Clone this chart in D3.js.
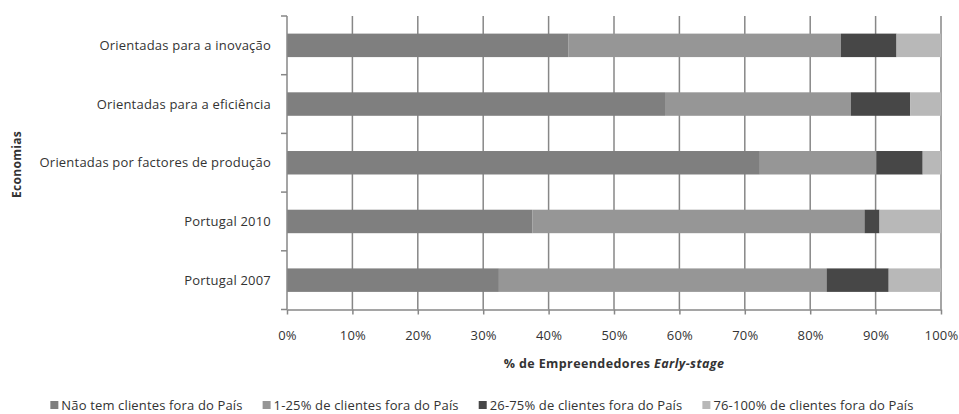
<!DOCTYPE html>
<html>
<head>
<meta charset="utf-8">
<script src="https://cdn.jsdelivr.net/npm/d3@7"></script>
<style>
  html, body { margin: 0; padding: 0; background: #fff; }
  svg { display: block; }
  text { font-family: "Open Sans", "Noto Sans", sans-serif; fill: #333; }
</style>
</head>
<body>
<svg id="chart" width="959" height="414"></svg>
<script>
// Economy groups, top to bottom
const categories = [
  "Orientadas para a inovação",
  "Orientadas para a eficiência",
  "Orientadas por factores de produção",
  "Portugal 2010",
  "Portugal 2007"
];

// Share of early-stage entrepreneurs by fraction of clients abroad (%)
const seriesNames = [
  "Não tem clientes fora do País",
  "1-25% de clientes fora do País",
  "26-75% de clientes fora do País",
  "76-100% de clientes fora do País"
];
const semClientes   = [43.0, 57.8, 72.3, 37.5, 32.4];
const ate25         = [41.7, 28.4, 17.8, 50.8, 50.1];
const de26a75       = [8.5, 9.1, 7.1, 2.3, 9.5];
const de76a100      = [6.8, 4.7, 2.8, 9.4, 8.0];

const xTicks = [0, 10, 20, 30, 40, 50, 60, 70, 80, 90, 100];
const colors = ["#7f7f7f", "#969696", "#474747", "#b8b8b8"];

const seriesValues = [semClientes, ate25, de26a75, de76a100];
const rows = categories.map((c, i) => {
  const r = { cat: c };
  seriesNames.forEach((s, k) => { r[s] = seriesValues[k][i]; });
  return r;
});

const svg = d3.select("#chart");
const plot = { left: 287, right: 941, top: 16, bottom: 309.5 };

const x = d3.scaleLinear().domain([0, 100]).range([plot.left, plot.right]);
const y = d3.scaleBand().domain(categories).range([plot.top, plot.bottom]).paddingInner(0.6).paddingOuter(0.3);
const band = d3.scaleBand().domain(categories).range([plot.top, plot.bottom]);

const gridColor = "#878787";

// Vertical gridlines
svg.append("g")
  .selectAll("line")
  .data(xTicks.slice(1))
  .join("line")
  .attr("x1", d => x(d)).attr("x2", d => x(d))
  .attr("y1", plot.top).attr("y2", plot.bottom)
  .attr("stroke", gridColor).attr("stroke-width", 1.5);

// Stacked bars
const stack = d3.stack().keys(seriesNames);
const layers = stack(rows);
svg.append("g")
  .selectAll("g")
  .data(layers)
  .join("g")
  .attr("fill", (d, i) => colors[i])
  .selectAll("rect")
  .data(d => d)
  .join("rect")
  .attr("x", d => x(d[0]))
  .attr("width", d => x(d[1]) - x(d[0]))
  .attr("y", d => y(d.data.cat))
  .attr("height", y.bandwidth());

// X axis
const xAxis = d3.axisBottom(x)
  .tickValues(xTicks)
  .tickFormat(d => d + "%")
  .tickSize(5)
  .tickPadding(16)
  .tickSizeOuter(0);
const gx = svg.append("g").attr("transform", `translate(0,${plot.bottom})`).call(xAxis);
gx.select(".domain").attr("stroke", gridColor).attr("stroke-width", 1.5);
gx.selectAll(".tick line").attr("stroke", gridColor).attr("stroke-width", 1.5);
gx.selectAll(".tick text")
  .attr("font-size", 13)
  .style("font-family", "'Open Sans', sans-serif")
  .style("letter-spacing", "0.2px")
  .attr("fill", "#333");

// Y axis: labels centred on bands, tick marks on band boundaries
const gy = svg.append("g").attr("transform", `translate(${plot.left},0)`);
gy.append("line")
  .attr("x1", 0).attr("x2", 0)
  .attr("y1", plot.top).attr("y2", plot.bottom)
  .attr("stroke", gridColor).attr("stroke-width", 1.5);
const boundaries = categories.map(c => band(c)).concat([plot.bottom]);
gy.selectAll("line.tk")
  .data(boundaries)
  .join("line")
  .attr("class", "tk")
  .attr("x1", -6).attr("x2", 0)
  .attr("y1", d => d).attr("y2", d => d)
  .attr("stroke", gridColor).attr("stroke-width", 1.5);
gy.selectAll("text")
  .data(categories)
  .join("text")
  .attr("x", -16)
  .attr("y", d => band(d) + band.bandwidth() / 2)
  .attr("dy", "0.35em")
  .attr("text-anchor", "end")
  .attr("font-size", 13)
  .style("letter-spacing", "0.2px")
  .text(d => d);

// Axis titles
svg.append("text")
  .attr("transform", "translate(17,164.5) rotate(-90)")
  .attr("text-anchor", "middle")
  .attr("dy", "0.35em")
  .attr("font-size", 12)
  .attr("font-weight", "bold")
  .style("letter-spacing", "0.3px")
  .text("Economias");

const xt = svg.append("text")
  .attr("x", 614).attr("y", 364)
  .attr("dy", "0.35em")
  .attr("text-anchor", "middle")
  .attr("font-size", 12.5)
  .attr("font-weight", "bold")
  .style("letter-spacing", "0.4px");
xt.append("tspan").text("% de Empreendedores ");
xt.append("tspan").attr("font-style", "italic").text("Early-stage");

// Legend
const legend = svg.append("g").attr("transform", "translate(0,405)");
const items = legend.selectAll("g")
  .data(seriesNames)
  .join("g");
items.append("rect")
  .attr("width", 8).attr("height", 8)
  .attr("y", -4)
  .attr("fill", (d, i) => colors[i]);
items.append("text")
  .attr("x", 11)
  .attr("dy", "0.35em")
  .attr("font-size", 13)
  .style("letter-spacing", "0.15px")
  .text(d => d);
// lay out items horizontally, centred
let offset = 0;
const gap = 20;
const widths = [];
items.each(function () { widths.push(this.getBBox().width); });
const total = d3.sum(widths) + gap * (widths.length - 1);
let start = 482 - total / 2;
items.attr("transform", (d, i) => {
  const t = `translate(${start + offset},0)`;
  offset += widths[i] + gap;
  return t;
});
</script>
</body>
</html>
